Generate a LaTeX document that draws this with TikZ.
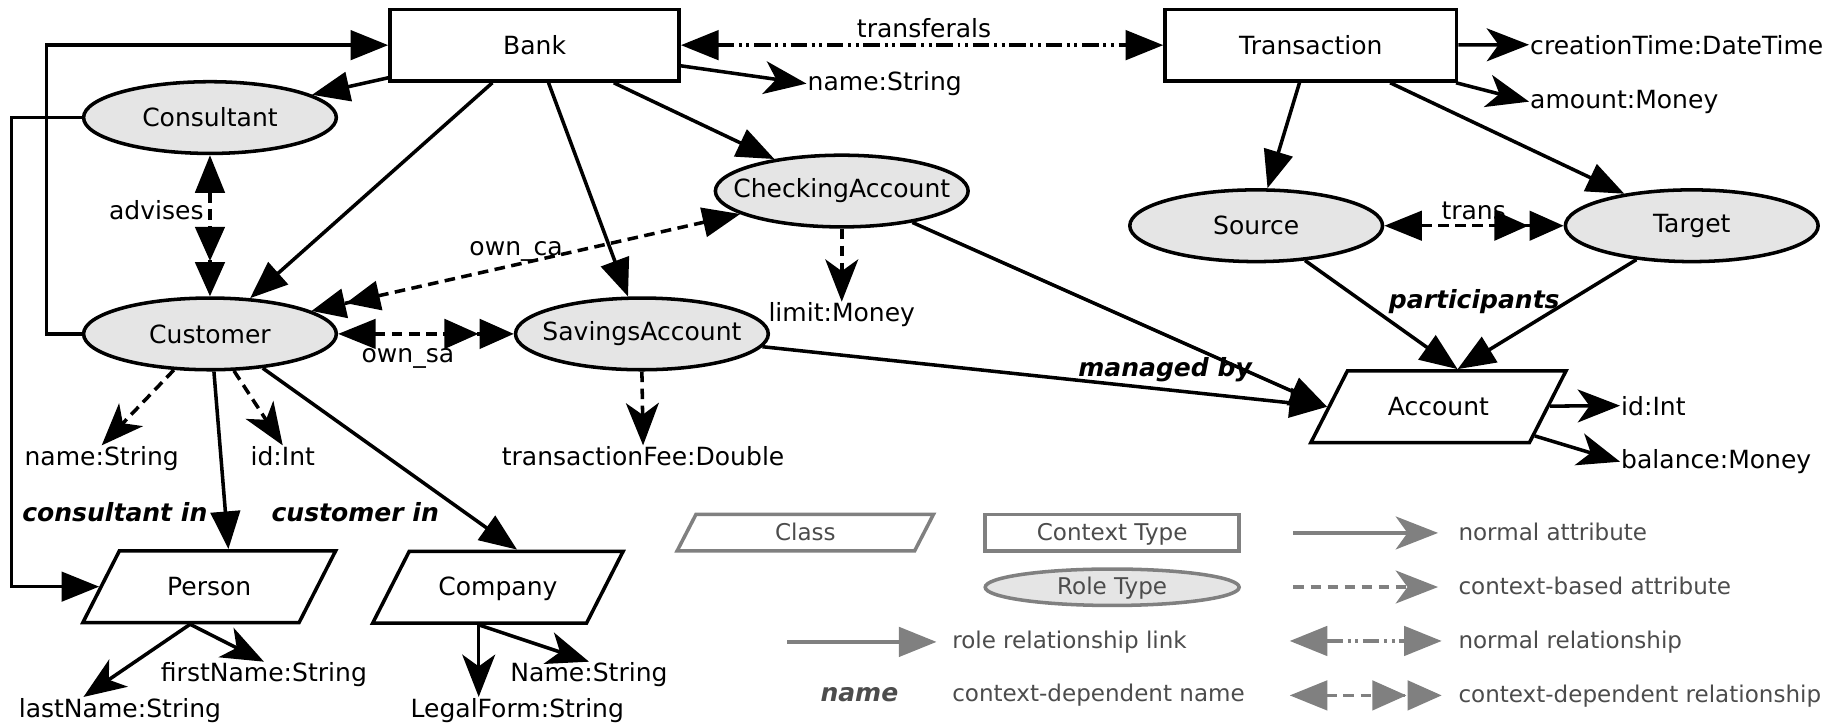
\documentclass[tikz,border=0pt]{standalone}
\usepackage{fontspec}
\setmainfont{DejaVu Sans}
\usetikzlibrary{arrows.meta,shapes.geometric,calc}
\definecolor{rolefill}{gray}{0.9}
\definecolor{leggray}{gray}{0.5}
\definecolor{legtext}{gray}{0.3}
\newcommand\diagfont{\fontsize{21.3}{25}\selectfont}
\newcommand\legendfont{\fontsize{19.6}{23}\selectfont}
\tikzset{
  ctxbox/.style={draw, line width=3pt, rectangle, minimum width=246pt, minimum height=61pt, inner sep=0pt, fill=white},
  rolebox/.style={draw, line width=3pt, ellipse, fill=rolefill, minimum width=215pt, minimum height=61pt, inner ysep=0pt, inner xsep=-30pt},
  clsbox/.style={draw, line width=3pt, trapezium, trapezium left angle=63, trapezium right angle=117, trapezium stretches body, minimum width=215pt, text height=16pt, text depth=1.5pt, inner ysep=21.75pt, inner xsep=0pt},
  txt/.style={inner sep=1pt, outer sep=0pt},
  ctxname/.style={txt, font=\diagfont\bfseries\itshape},
  legtxt/.style={txt, font=\legendfont, text=legtext},
  rlink/.style={line width=3pt, -{Triangle[length=32pt,width=25pt]}},
  attr/.style={line width=3pt, -{Stealth[length=36pt,width=28pt,inset=10pt]}},
  cattr/.style={attr, dash pattern=on 9pt off 5.5pt},
  rel/.style={line width=3pt, {Triangle[length=32pt,width=25pt]}-{Triangle[length=32pt,width=25pt]}, dash pattern=on 14pt off 4pt on 2.5pt off 4pt on 2.5pt off 4pt},
  crel/.style={line width=3pt, {Triangle[length=32pt,width=25pt]}-{Triangle[length=29pt,width=25pt,sep=1pt]Triangle[length=29pt,width=25pt]}, dash pattern=on 9pt off 5.5pt},
}
\begin{document}
\begin{tikzpicture}[x=1pt,y=-1pt,font=\diagfont]
\useasboundingbox (0,0) rectangle (1568.5,616.5);

% context types
\node[ctxbox] (Bank) at (454.7,38.4) {Bank};
\node[ctxbox, minimum width=248pt] (Transaction) at (1115,38.4) {Transaction};
% role types
\node[rolebox] (Consultant) at (178.6,100) {Consultant};
\node[rolebox] (Customer) at (178.6,284) {Customer};
\node[rolebox] (Checking) at (716,162.5) {CheckingAccount};
\node[rolebox] (Savings) at (546,284) {SavingsAccount};
\node[rolebox] (Source) at (1068.5,192) {Source};
\node[rolebox] (Target) at (1439,192) {Target};
% classes
\node[clsbox, minimum width=217pt] (Account) at (1223.5,346) {Account};
\node[clsbox] (Person) at (178,499) {Person};
\node[clsbox, minimum width=213pt] (Company) at (423.5,499.5) {Company};

% attribute texts
\node[txt, anchor=base west] (nameB) at (686,77) {name:String};
\node[txt, anchor=base west] (ctime) at (1300.6,46) {creationTime:DateTime};
\node[txt, anchor=base west] (amount) at (1300.6,92) {amount:Money};
\node[txt, anchor=base] (limit) at (716,273.8) {limit:Money};
\node[txt, anchor=base] (fee) at (547,396) {transactionFee:Double};
\node[txt, anchor=base] (nameC) at (86.5,396) {name:String};
\node[txt, anchor=base] (idC) at (240.5,396) {id:Int};
\node[txt, anchor=base west] (idA) at (1378,353) {id:Int};
\node[txt, anchor=base west] (balance) at (1378,398.6) {balance:Money};
\node[txt, anchor=base] (fname) at (224.5,580) {firstName:String};
\node[txt, anchor=base] (lname) at (102,610) {lastName:String};
\node[txt, anchor=base] (legal) at (440,610) {LegalForm:String};
\node[txt, anchor=base] (nameK) at (501,580) {Name:String};

% labels
\node[txt, anchor=base] (lTransferals) at (786,31.5) {transferals};
\node[txt, anchor=base] (lAdvises) at (133,187) {advises};
\node[txt, anchor=base] (lOwnCa) at (439,217) {own\_ca};
\node[txt, anchor=base] (lOwnSa) at (347,308) {own\_sa};
\node[txt, anchor=base] (lTrans) at (1253.5,187) {trans};
\node[ctxname, anchor=base] (lPart) at (1254,262.4) {participants};
\node[ctxname, anchor=base] (lManaged) at (991,320.6) {managed by};
\node[ctxname, anchor=base west] (lConsIn) at (18,444) {consultant in};
\node[ctxname, anchor=base west] (lCustIn) at (230,444) {customer in};

% role relationship links
\draw[rlink] (Bank) -- (Consultant);
\draw[rlink] (Bank) -- (Customer);
\draw[rlink] (Bank) -- (Savings);
\draw[rlink] (Bank) -- (Checking);
\draw[rlink] (Customer.west) -- ++(-30,0) |- (Bank.west);
\draw[rlink] (Consultant.west) -- ++(-60,0) |- (Person.left side);
\draw[rlink] (Customer.-84) -- (Person.top side);
\draw[rlink] (Customer.-33) -- (Company.top side);
\draw[rlink] (Transaction) -- (Source);
\draw[rlink] (Transaction) -- (Target);
\draw[rlink] (Source) -- (Account.top side);
\draw[rlink] (Target) -- (Account.top side);
\draw[rlink] (Checking) -- (Account.left side);
\draw[rlink] (Savings) -- (Account.left side);

% attributes
\draw[attr] (Bank) -- (nameB.west);
\draw[attr] (Transaction) -- (ctime.west);
\draw[attr] (Transaction) -- (amount.west);
\draw[attr] (Account) -- (idA.west);
\draw[attr] (Account) -- (balance.west);
\draw[attr] (Person.bottom side) -- (fname.north);
\draw[attr] (Person.bottom side) -- ($(lname.north west)+(56,0)$);
\draw[attr] (Company.bottom side) -- (Company.bottom side |- legal.north);
\draw[attr] (Company.bottom side) -- (nameK.north);
\draw[cattr] (Customer.-135) -- (nameC.north);
\draw[cattr] (Customer.-57) -- (idC.north);
\draw[cattr] (Checking.south) -- (limit.north);
\draw[cattr] (Savings.south) -- (fee.north);

% relationships
\draw[rel] (Bank) -- (Transaction);
\draw[crel] (Consultant) -- (Customer);
\draw[crel] (Checking) -- (Customer);
\draw[crel] (Customer) -- (Savings);
\draw[crel] (Source) -- (Target);

% legend
\node[clsbox, draw=leggray, minimum width=218pt, text height=14pt, text depth=1pt, inner ysep=8pt, trapezium left angle=62.7, trapezium right angle=117.3, text=legtext, font=\legendfont] (lgClass) at (685,453) {Class};
\node[ctxbox, draw=leggray, minimum width=216pt, minimum height=31pt, text height=14pt, text depth=1pt, text=legtext, font=\legendfont] (lgContext) at (946,453) {Context Type};
\node[rolebox, draw=leggray, minimum width=216pt, minimum height=31pt, text height=14pt, text depth=1pt, text=legtext, font=\legendfont] (lgRole) at (946,499.5) {Role Type};

\coordinate (lgA1) at (669.6,546); \coordinate (lgA2) at (796.6,546);
\draw[rlink, leggray] (lgA1) -- (lgA2);
\node[legtxt, anchor=base west] (lgT1) at (809,551.8) {role relationship link};
\node[ctxname, text=legtext, anchor=base] (lgName) at (731,597) {name};
\node[legtxt, anchor=base west] (lgT2) at (809,597) {context-dependent name};

\coordinate (lgB1) at (1100.2,453.3); \coordinate (lgB2) at (1223.2,453.3);
\draw[attr, leggray] (lgB1) -- (lgB2);
\node[legtxt, anchor=base west] (lgT3) at (1239.6,460) {normal attribute};
\coordinate (lgC1) at (1100.2,499.3); \coordinate (lgC2) at (1223.2,499.3);
\draw[cattr, leggray] (lgC1) -- (lgC2);
\node[legtxt, anchor=base west] (lgT4) at (1239.6,506) {context-based attribute};
\coordinate (lgD1) at (1097,545.2); \coordinate (lgD2) at (1226.3,545.2);
\draw[rel, leggray] (lgD1) -- (lgD2);
\node[legtxt, anchor=base west] (lgT5) at (1239.6,552) {normal relationship};
\coordinate (lgE1) at (1097,591.5); \coordinate (lgE2) at (1226.3,591.5);
\draw[crel, leggray] (lgE1) -- (lgE2);
\node[legtxt, anchor=base west] (lgT6) at (1239.6,597.7) {context-dependent relationship};
\end{tikzpicture}
\end{document}
